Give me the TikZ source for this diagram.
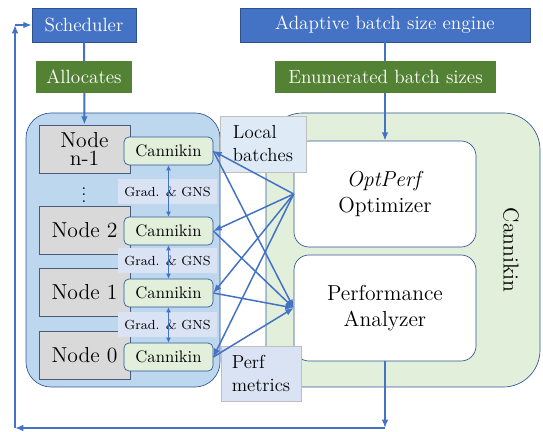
\documentclass[tikz,border=0pt]{standalone}
\usepackage{tikz}
\usetikzlibrary{arrows.meta}
\definecolor{hdrblue}{HTML}{4472C4}
\definecolor{hdrline}{HTML}{2F528F}
\definecolor{taggreen}{HTML}{548235}
\definecolor{poolblue}{HTML}{BDD7EE}
\definecolor{cnkgreen}{HTML}{E2EFDA}
\definecolor{nodegray}{HTML}{D9D9D9}
\definecolor{tagblue}{HTML}{DAE3F3}
\definecolor{noteblue}{HTML}{DEEBF7}
\definecolor{boxline}{HTML}{2F5597}
\definecolor{nodeline}{HTML}{4A5A7A}

\begin{document}
\begin{tikzpicture}[x=0.6pt,y=-0.6pt,
    >={Latex[length=5pt,width=4pt]},
    hdr/.style={draw=hdrline,fill=hdrblue,text=white,font=\fontsize{11.5}{13}\selectfont,minimum height=20.4pt,inner sep=0pt},
    tag/.style={fill=taggreen,text=white,font=\fontsize{11.5}{13}\selectfont,minimum height=19.2pt,inner sep=0pt},
    worker/.style={draw=nodeline,fill=nodegray,font=\fontsize{13}{11}\selectfont,minimum width=54.6pt,minimum height=28.8pt,inner sep=0pt,align=center},
    cnk/.style={draw=boxline,fill=cnkgreen,rounded corners=3pt,font=\fontsize{10}{12}\selectfont,minimum width=53.4pt,minimum height=16.8pt,inner sep=0pt},
    gns/.style={fill=tagblue,font=\fontsize{7.9}{9}\selectfont,minimum width=59.4pt,minimum height=15pt,inner sep=0pt},
    note/.style={draw=gray!50,font=\fontsize{11.3}{13.8}\selectfont,align=left,inner sep=0pt},
    module/.style={draw=boxline,fill=white,rounded corners=9pt,font=\fontsize{13}{16}\selectfont,align=center,minimum width=109.2pt,minimum height=63.6pt,inner sep=0pt},
    flow/.style={hdrblue,line width=1.2pt,->},
    link/.style={hdrblue,line width=0.9pt,->},
    sync/.style={hdrblue,line width=0.8pt,{Latex[length=3pt,width=3pt]}-{Latex[length=3pt,width=3pt]}}
]
\useasboundingbox (0,0) rectangle (543,432);

% the two pools
\draw[draw=boxline,fill=poolblue,rounded corners=15pt] (26,113) rectangle (220,387);
\draw[draw=boxline,fill=cnkgreen,rounded corners=22pt] (266,113) rectangle (540,387);

% worker nodes
\node[worker] (nodeN) at (84.5,149) {Node\\n-1};
\node[font=\fontsize{10}{12}\selectfont] (dots) at (84,190) {$\vdots$};
\node[worker] (node2) at (84.5,230) {Node 2};
\node[worker] (node1) at (84.5,292) {Node 1};
\node[worker] (node0) at (84.5,355) {Node 0};

\node[cnk] (canN) at (168.5,151) {Cannikin};
\node[cnk] (can2) at (168.5,231) {Cannikin};
\node[cnk] (can1) at (168.5,293) {Cannikin};
\node[cnk] (can0) at (168.5,357) {Cannikin};

\node[gns] (gradA) at (167.5,192) {Grad. \& GNS};
\node[gns] (gradB) at (167.5,261) {Grad. \& GNS};
\node[gns] (gradC) at (167.5,325) {Grad. \& GNS};

% cannikin modules
\node[module] (optim) at (385,194) {\textit{OptPerf}\\Optimizer};
\node[module] (analyzer) at (385,308) {Performance\\Analyzer};
\node[rotate=-90,font=\fontsize{13}{15}\selectfont] (cnkname) at (511,250) {Cannikin};

\node[note,fill=noteblue,minimum width=51.6pt,minimum height=33.6pt] (local) at (263,144) {Local\\batches};
\node[note,fill=tagblue,minimum width=48pt,minimum height=33pt] (perf) at (261,373.5) {Perf\\metrics};

% top row
\node[hdr,minimum width=62.4pt] (sched) at (84,25) {Scheduler};
\node[hdr,minimum width=174pt] (engine) at (385,25) {Adaptive batch size engine};
\draw[flow] (sched) -- (nodeN);
\draw[flow] (engine) -- (optim);
\node[tag,minimum width=57.6pt] (alloc) at (84,77) {Allocates};
\node[tag,minimum width=132.6pt] (enum) at (385.5,77) {Enumerated batch sizes};

% gradient exchange
\draw[sync] (canN) -- (can2);
\draw[sync] (can2) -- (can1);
\draw[sync] (can1) -- (can0);

% batches out, metrics in
\foreach \c in {canN,can2,can1,can0} {
    \draw[link] (optim.west) -- (\c.east);
    \draw[link] (\c.east) -- (analyzer.west);
}

% feedback loop
\coordinate (lowR) at (385,428);
\coordinate (lowL) at (15,428);
\coordinate (upL) at (15,25);
\draw[flow] (analyzer) -- (lowR);
\draw[flow] (lowR) -- (lowL);
\draw[flow] (lowL) -- (upL);
\draw[flow] (upL) -- (sched);
\end{tikzpicture}
\end{document}
